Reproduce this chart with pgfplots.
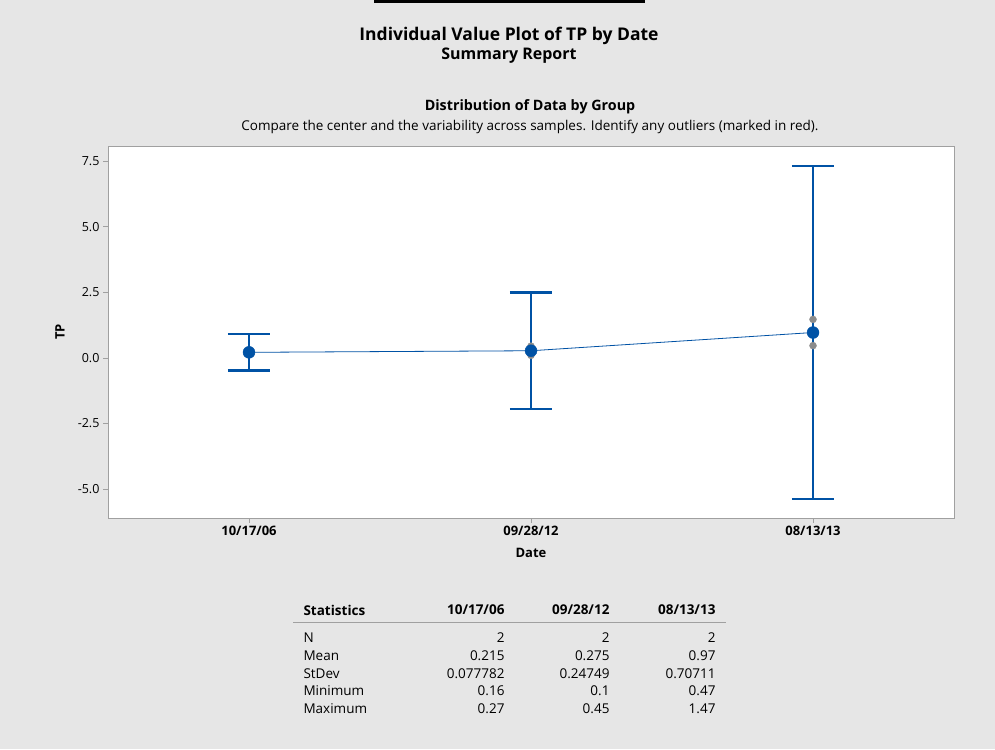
\documentclass[border=0pt]{standalone}
\usepackage{pgfplots}
\pgfplotsset{compat=1.18}
\usepackage{fontspec}
\setmainfont{Open Sans}
\definecolor{bgc}{HTML}{E6E6E6}
\definecolor{mblue}{RGB}{0,82,165}
\definecolor{ptgray}{HTML}{8C8C8C}
\definecolor{axgray}{HTML}{A0A0A0}
\begin{document}
\begin{tikzpicture}[x=1pt,y=1pt]
\useasboundingbox (0,0) rectangle (995,749);
\fill[bgc] (0,0) rectangle (995,749);
\fill[black] (374,746) rectangle (645,749);
% titles
\node[font=\bfseries\fontsize{17.5}{20}\selectfont] at (509,713) {Individual Value Plot of TP by Date};
\node[font=\bfseries\fontsize{16}{19}\selectfont] at (509,693) {Summary Report};
\node[font=\bfseries\fontsize{14.3}{17}\selectfont] at (530,642) {Distribution of Data by Group};
\node[font=\fontsize{13.5}{16}\selectfont] at (530,622.5) {Compare the center and the variability across samples. Identify any outliers (marked in red).};
\begin{axis}[
  at={(108pt,231pt)}, anchor=south west,
  width=846pt, height=372pt, scale only axis,
  xmin=-0.5, xmax=2.5, ymin=-6.1, ymax=8.08,
  axis background/.style={fill=white},
  axis line style={draw=axgray, line width=0.8pt},
  xtick={0,1,2}, xticklabels={10/17/06,09/28/12,08/13/13},
  ytick={-5,-2.5,0,2.5,5,7.5}, yticklabels={-5.0,-2.5,0.0,2.5,5.0,7.5},
  tick align=outside, tick pos=left, major tick length=5pt,
  tick style={draw=axgray, line width=0.8pt},
  xticklabel style={font=\bfseries\fontsize{13}{15}\selectfont},
  yticklabel style={font=\fontsize{12.5}{15}\selectfont},
  xlabel={Date}, ylabel={TP},
  xlabel style={font=\bfseries\fontsize{13}{15}\selectfont, at={(axis description cs:0.5,-0.094)}, anchor=center},
  ylabel style={font=\bfseries\fontsize{13}{15}\selectfont, at={(axis description cs:-0.0567,0.5)}, anchor=center},
  unbounded coords=jump,
  clip=false,
]
% 95% CI intervals: vertical lines
\addplot[mblue, line width=2.5pt, mark=none, line cap=butt]
  coordinates {(0,-0.484) (0,0.914) (nan,nan) (1,-1.949) (1,2.499) (nan,nan) (2,-5.383) (2,7.323)};
% caps
\addplot[mblue, line width=2.5pt, mark=none, line cap=butt]
  coordinates {(-0.075,-0.484) (0.075,-0.484) (nan,nan) (-0.075,0.914) (0.075,0.914) (nan,nan)
               (0.925,-1.949) (1.075,-1.949) (nan,nan) (0.925,2.499) (1.075,2.499) (nan,nan)
               (1.925,-5.383) (2.075,-5.383) (nan,nan) (1.925,7.323) (2.075,7.323)};
% mean connect line
\addplot[mblue, line width=0.8pt, mark=none] coordinates {(0,0.215) (1,0.275) (2,0.97)};
% individual values
\addplot[only marks, mark=*, mark size=3.5pt, ptgray, mark options={draw=ptgray, fill=ptgray}]
  coordinates {(0,0.16) (0,0.27) (1,0.1) (1,0.45) (2,0.47) (2,1.47)};
% means
\addplot[only marks, mark=*, mark size=6pt, mblue, mark options={draw=mblue, fill=mblue}]
  coordinates {(0,0.215) (1,0.275) (2,0.97)};
\end{axis}
% statistics table
\begin{scope}[font=\fontsize{13.5}{16}\selectfont]
\node[anchor=west, font=\bfseries\fontsize{13.5}{16}\selectfont] at (300,139) {Statistics};
\node[anchor=east, font=\bfseries\fontsize{13.5}{16}\selectfont] at (508,139) {10/17/06};
\node[anchor=east, font=\bfseries\fontsize{13.5}{16}\selectfont] at (613,139) {09/28/12};
\node[anchor=east, font=\bfseries\fontsize{13.5}{16}\selectfont] at (719,139) {08/13/13};
\draw[axgray, line width=1pt] (293,126) -- (726,126);
\foreach \lab/\a/\b/\c [count=\i] in {N/2/2/2, Mean/0.215/0.275/0.97, StDev/0.077782/0.24749/0.70711, Minimum/0.16/0.1/0.47, Maximum/0.27/0.45/1.47}{
  \pgfmathsetmacro{\yy}{111-17.7*(\i-1)}
  \node[anchor=west] at (300,\yy) {\lab};
  \node[anchor=east] at (508,\yy) {\a};
  \node[anchor=east] at (613,\yy) {\b};
  \node[anchor=east] at (719,\yy) {\c};
}
\end{scope}
\end{tikzpicture}
\end{document}
